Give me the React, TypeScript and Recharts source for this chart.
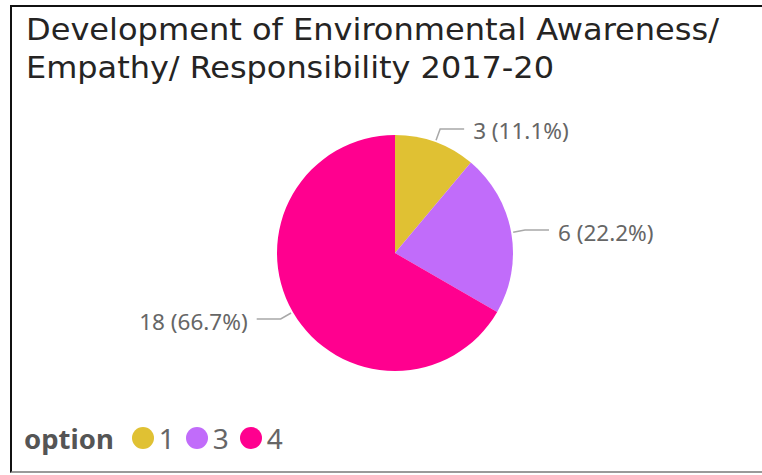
import React from 'react';
import { PieChart, Pie, Cell, Legend } from 'recharts';

const categories = ['1', '3', '4'];
const counts = [3, 6, 18];
const colors = ['#E0C133', '#C16CFA', '#FF008F'];
const titleLines = ['Development of Environmental Awareness/', 'Empathy/ Responsibility 2017-20'];
const legendTitle = 'option';

const data = categories.map((c, i) => ({ name: c, value: counts[i] }));

const RADIAN = Math.PI / 180;

const renderLabel = (props: any) => {
  const { cx, cy, midAngle, outerRadius, value, percent } = props;
  const cos = Math.cos(-RADIAN * midAngle);
  const sin = Math.sin(-RADIAN * midAngle);
  const x0 = cx + (outerRadius + 2) * cos;
  const y0 = cy + (outerRadius + 2) * sin;
  const x1 = cx + (outerRadius + 14) * cos;
  const y1 = cy + (outerRadius + 14) * sin;
  const dir = cos >= 0 ? 1 : -1;
  const x2 = x1 + dir * 24;
  const tx = x2 + dir * 9;
  return (
    <g>
      <polyline points={`${x0},${y0} ${x1},${y1} ${x2},${y1}`} fill="none" stroke="#A8A8A8" strokeWidth={1.5} />
      <text
        x={tx}
        y={y1 + 2}
        textAnchor={dir > 0 ? 'start' : 'end'}
        dominantBaseline="central"
        fill="#666666"
        fontSize={22.5}
        fontFamily='"Noto Sans", "Open Sans", sans-serif'
      >
        {`${value} (${(percent * 100).toFixed(1)}%)`}
      </text>
    </g>
  );
};

const renderLegend = () => (
  <div style={{ display: 'flex', alignItems: 'center', fontFamily: '"Noto Sans", "Open Sans", sans-serif', height: 30 }}>
    <span style={{ fontWeight: 700, fontSize: 27.5, color: '#555555', marginRight: 18 }}>{legendTitle}</span>
    {categories.map((c, i) => (
      <span key={c} style={{ display: 'flex', alignItems: 'center', marginRight: 11 }}>
        <span style={{ display: 'inline-block', width: 22, height: 22, borderRadius: 11, background: colors[i], marginRight: 5 }} />
        <span style={{ fontSize: 28, color: '#666666', lineHeight: '30px' }}>{c}</span>
      </span>
    ))}
  </div>
);

export default function App() {
  return (
    <div style={{ position: 'absolute', left: 0, top: 0, width: 762, height: 475, background: '#fff', overflow: 'hidden' }}>
      <div
        style={{
          position: 'absolute',
          left: 10,
          top: 5,
          width: 800,
          height: 468,
          borderLeft: '2px solid #111',
          borderTop: '2px solid #111',
          borderBottom: '2px solid #9a9a9a',
          boxSizing: 'border-box',
        }}
      />
      <svg width={762} height={100} style={{ position: 'absolute', left: 0, top: 0 }}>
        <text x={26} y={40} fontSize={30.5} fill="#252423" style={{ fontStretch: 'condensed' }} fontFamily='"DejaVu Sans Condensed", "DejaVu Sans", sans-serif' textLength={693} lengthAdjust="spacingAndGlyphs">
          {titleLines[0]}
        </text>
        <text x={26} y={78} fontSize={30.5} fill="#252423" style={{ fontStretch: 'condensed' }} fontFamily='"DejaVu Sans Condensed", "DejaVu Sans", sans-serif' textLength={528} lengthAdjust="spacingAndGlyphs">
          {titleLines[1]}
        </text>
      </svg>
      <div style={{ position: 'absolute', left: 0, top: 0 }}>
        <PieChart width={762} height={475} margin={{ top: 0, right: 0, bottom: 0, left: 0 }}>
          <Pie
            data={data}
            dataKey="value"
            nameKey="name"
            cx={395}
            cy={253}
            outerRadius={118}
            startAngle={90}
            endAngle={-270}
            stroke="none"
            label={renderLabel}
            labelLine={false}
            isAnimationActive={false}
          >
            {data.map((d, i) => (
              <Cell key={d.name} fill={colors[i]} />
            ))}
          </Pie>
          <Legend
            content={renderLegend}
            wrapperStyle={{ position: 'absolute', left: 24, top: 423, width: 400 }}
          />
        </PieChart>
      </div>
    </div>
  );
}
